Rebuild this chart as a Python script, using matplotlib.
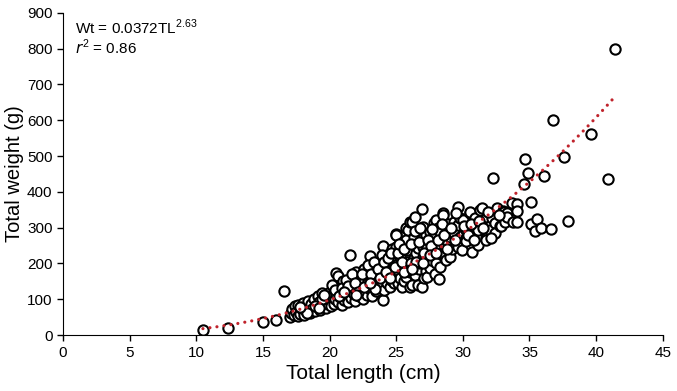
"""
Length-weight relationship, scatter with power fit
"""

import matplotlib
matplotlib.use("Agg")
import matplotlib.pyplot as plt
import numpy as np

plt.rcParams['font.family'] = ['Liberation Sans Narrow', 'Liberation Sans', 'DejaVu Sans']

# isolated small fish
small_tl = [10.5, 12.4, 15.0, 16.0, 16.6]
small_wt = [14, 20, 36, 42, 123]

# 17 - 20 cm
band1_tl = [17.0, 17.1, 17.2, 17.3, 17.4, 17.5, 17.6, 17.6, 17.8, 17.9, 18.0, 18.1, 18.2, 18.3, 18.4,
            18.5, 18.6, 18.7, 18.8, 18.9, 19.0, 19.1, 19.2, 19.3, 19.4, 19.5, 19.6, 19.7, 19.8, 19.9]
band1_wt = [50, 62, 72, 55, 80, 65, 84, 52, 60, 73, 90, 57, 68, 78, 95,
            62, 86, 72, 100, 66, 80, 110, 92, 70, 118, 85, 98, 76, 105, 88]

# 20 - 23 cm
band2_tl = [20.0, 20.0, 20.1, 20.2, 20.3, 20.3, 20.4, 20.5, 20.5, 20.6, 20.6, 20.7, 20.8, 20.8, 20.9,
            21.0, 21.0, 21.1, 21.2, 21.3, 21.3, 21.4, 21.5, 21.5, 21.6, 21.6, 21.7, 21.8, 21.8, 21.9,
            22.0, 22.0, 22.1, 22.2, 22.3, 22.3, 22.4, 22.5, 22.5, 22.6, 22.7, 22.8, 22.8, 22.9, 23.0,
            23.0, 23.0]
band2_wt = [120, 95, 80, 108, 130, 88, 100, 173, 115, 165, 92, 125, 105, 140, 85,
            118, 150, 98, 130, 110, 145, 92, 224, 122, 160, 104, 135, 115, 150, 96,
            125, 175, 140, 108, 160, 130, 118, 150, 100, 185, 138, 165, 112, 148, 221,
            128, 175]

# 23 - 25.5 cm
band3_tl = [23.1, 23.2, 23.2, 23.3, 23.4, 23.5, 23.5, 23.6, 23.7, 23.8, 23.9, 24.0, 24.0, 24.0, 24.1,
            24.2, 24.3, 24.3, 24.4, 24.5, 24.5, 24.6, 24.7, 24.7, 24.8, 24.8, 24.9, 25.0, 25.0, 25.0,
            25.0, 25.1, 25.2, 25.3, 25.3, 25.4]
band3_wt = [155, 110, 190, 140, 165, 122, 200, 150, 180, 135, 210, 249, 98, 160, 125,
            190, 145, 225, 170, 135, 200, 155, 240, 182, 168, 145, 215, 282, 279, 246,
            196, 145, 175, 218, 160, 135]

# 25.5 - 27.3 cm
band4_tl = [25.5, 25.5, 25.6, 25.7, 25.7, 25.7, 25.8, 25.8, 25.9, 25.9, 26.0, 26.0, 26.0, 26.2, 26.2,
            26.3, 26.3, 26.4, 26.4, 26.5, 26.6, 26.6, 26.7, 26.8, 26.9, 26.9, 27.0, 27.0, 27.0, 27.0,
            27.1, 27.2, 27.2]
band4_wt = [260, 190, 150, 299, 265, 162, 238, 205, 293, 196, 316, 134, 175, 140, 316,
            274, 215, 330, 168, 230, 243, 140, 185, 201, 352, 134, 302, 271, 218, 246,
            160, 279, 178]

# 27.3 - 29.5 cm
band5_tl = [27.3, 27.3, 27.5, 27.5, 27.6, 27.8, 27.8, 27.8, 27.9, 28.0, 28.0, 28.0, 28.1, 28.2, 28.3,
            28.3, 28.4, 28.5, 28.5, 28.6, 28.7, 28.8, 28.9, 28.9, 29.0, 29.0, 29.2, 29.3, 29.3]
band5_wt = [246, 162, 288, 187, 210, 313, 279, 224, 170, 321, 246, 200, 299, 157, 288,
            190, 230, 341, 335, 255, 210, 299, 310, 257, 274, 218, 240, 285, 316]

# 29.5 - 34 cm
band6_tl = [29.6, 29.6, 29.6, 29.8, 29.8, 29.9, 30.0, 30.0, 30.2, 30.2, 30.2, 30.5, 30.5, 30.7, 30.9,
            31.1, 31.1, 31.3, 31.4, 31.7, 31.7, 31.8, 31.9, 32.0, 32.0, 32.2, 32.3, 32.4, 32.4, 32.6,
            32.8, 32.9, 33.0, 33.0, 33.1, 33.2, 33.3, 33.3, 33.7, 33.8]
band6_wt = [358, 307, 246, 327, 274, 238, 321, 279, 293, 271, 263, 341, 344, 232, 327,
            293, 252, 349, 355, 271, 265, 330, 302, 305, 293, 327, 439, 313, 285, 355,
            305, 305, 346, 330, 344, 316, 341, 330, 369, 316]

# points filling the middle of the cloud
fill_tl = [20.2, 20.4, 20.9, 21.2, 21.4, 21.7, 21.9, 22.1, 22.4, 22.6, 22.9, 23.1, 23.3, 23.4, 23.6,
           23.8, 23.9, 24.1, 24.2, 24.4, 24.6, 24.9, 25.1, 25.2, 25.4, 25.6, 25.8, 26.1, 26.1, 26.4,
           26.5, 26.7, 26.8, 27.1, 27.4, 27.6, 27.7, 28.1, 28.4, 28.6, 28.8, 29.1, 29.4, 29.5, 30.1,
           30.4, 30.6, 30.8, 31.2, 31.5, 31.9, 32.1, 32.7, 19.4, 19.6, 18.9, 18.3, 17.8, 19.2, 20.7,
           21.1, 22.0, 23.0, 24.5, 25.6, 26.2, 27.0, 27.5, 28.0]
fill_wt = [140, 125, 132, 155, 138, 170, 145, 120, 172, 135, 195, 170, 205, 130, 185,
           160, 225, 205, 175, 215, 230, 190, 230, 255, 205, 240, 180, 255, 200, 290,
           205, 260, 300, 230, 265, 250, 295, 265, 310, 280, 240, 300, 265, 340, 305,
           280, 310, 265, 320, 300, 345, 270, 335, 100, 112, 82, 62, 78, 75, 110,
           120, 112, 145, 160, 175, 185, 200, 225, 230]

# large fish
large_tl = [34.1, 34.1, 34.1, 34.6, 34.7, 34.9, 35.1, 35.1, 35.4, 35.6, 35.9, 36.1, 36.6, 36.8,
            37.6, 37.9, 39.6, 40.9, 41.4]
large_wt = [366, 347, 316, 422, 492, 453, 372, 310, 291, 324, 299, 444, 296, 601,
            497, 319, 562, 436, 798]

# fitted power curve Wt = a * TL^b
fit_a = 0.0372
fit_b = 2.63
fit_r2 = 0.86

tl = np.array(small_tl + band1_tl + band2_tl + band3_tl + band4_tl + band5_tl + band6_tl
              + fill_tl + large_tl)
wt = np.array(small_wt + band1_wt + band2_wt + band3_wt + band4_wt + band5_wt + band6_wt
              + fill_wt + large_wt)

fig = plt.figure(figsize=(6.77, 3.91), dpi=100)
ax = fig.add_axes([0.093, 0.143, 0.886, 0.824])

ax.scatter(tl, wt, s=55, facecolors='white', edgecolors='black', linewidths=1.5, zorder=2)

xs = np.linspace(tl.min(), 41.3, 200)
ax.plot(xs, fit_a * xs ** fit_b, color='#c0232c', lw=2.3, linestyle=(0, (0.01, 2.2)),
        dash_capstyle='round', zorder=3)

ax.set_xlim(0, 45)
ax.set_ylim(0, 900)
ax.set_xticks(range(0, 46, 5))
ax.set_yticks(range(0, 901, 100))
ax.spines['top'].set_visible(False)
ax.spines['right'].set_visible(False)
ax.tick_params(labelsize=11, length=4, width=1)
ax.set_xlabel('Total length (cm)', fontsize=15, labelpad=3)
ax.set_ylabel('Total weight (g)', fontsize=14.5, labelpad=2)

ax.text(0.9, 860, r'Wt = 0.0372TL$^{\mathregular{%.2f}}$' % fit_b, fontsize=11, va='center')
ax.text(0.9, 805, r'$\mathit{r}^{\mathregular{2}}$ = %.2f' % fit_r2, fontsize=11, va='center')

plt.savefig('out.png', dpi=100)
